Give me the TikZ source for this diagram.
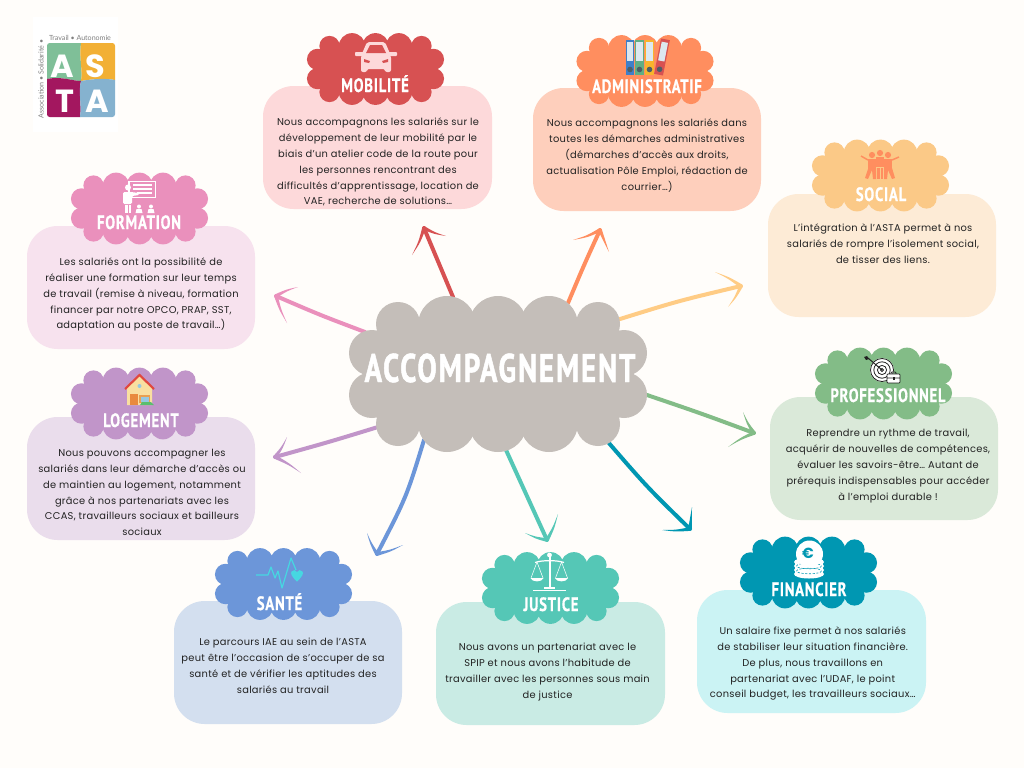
\documentclass[tikz,border=0pt]{standalone}
\usepackage{fontspec}
\usetikzlibrary{calc}
\setmainfont{Poppins}
\newfontfamily\bodyfont[LetterSpace=3]{Poppins}
\newfontfamily\logofont{Lato}
\newfontfamily\titlefont[FakeStretch=0.76,LetterSpace=4,FakeBold=0.5]{PT Sans Bold}
\newfontfamily\bigtitlefont[FakeStretch=0.72,LetterSpace=5,FakeBold=1.2]{PT Sans Bold}
\newfontfamily\coinfont{Poppins}
\definecolor{pagebg}{HTML}{FFFDFA}
\definecolor{inkdark}{HTML}{222222}
\definecolor{cmob}{HTML}{D75152}\definecolor{bmob}{HTML}{FDD9DA}
\definecolor{cadm}{HTML}{FF8E5F}\definecolor{badm}{HTML}{FECFBC}
\definecolor{csoc}{HTML}{FBC987}\definecolor{bsoc}{HTML}{FDEBD6}
\definecolor{cpro}{HTML}{83BC87}\definecolor{bpro}{HTML}{DAE9D9}
\definecolor{cfin}{HTML}{0097B2}\definecolor{bfin}{HTML}{CBF3F4}
\definecolor{cjus}{HTML}{55C7B6}\definecolor{bjus}{HTML}{C9EBE4}
\definecolor{csan}{HTML}{6C96D9}\definecolor{bsan}{HTML}{D3DFEF}
\definecolor{clog}{HTML}{C195C9}\definecolor{blog}{HTML}{EADDEC}
\definecolor{cfor}{HTML}{EA90BC}\definecolor{bfor}{HTML}{F7E2EE}
\definecolor{ccen}{HTML}{C4BEB9}
\definecolor{cyel}{HTML}{FFCC85}
\definecolor{lggreen}{HTML}{7FBF98}\definecolor{lgorange}{HTML}{F2B035}
\definecolor{lgmag}{HTML}{A3175F}\definecolor{lgblue}{HTML}{85B2CF}
\definecolor{bndblue}{HTML}{3F7FC8}\definecolor{bndgreen}{HTML}{5FAE85}
\definecolor{bndyellow}{HTML}{F7B42C}\definecolor{bndlabel}{HTML}{DCE8F0}
\definecolor{bndhole}{HTML}{4E5E66}
\definecolor{hswall}{HTML}{F9DFA0}\definecolor{hsroof}{HTML}{E0483E}
\definecolor{hsdoor}{HTML}{E98A3E}\definecolor{hsframe}{HTML}{E9A050}
\definecolor{hswin}{HTML}{96C8E1}\definecolor{hsbush}{HTML}{5ABE6E}
\definecolor{hrtline}{HTML}{46D7E1}
\definecolor{logogray}{HTML}{808080}
\tikzset{
  panelbox/.style={rounded corners=23pt,inner sep=0pt,draw=none},
  paneltxt/.style={inner sep=0pt,anchor=north,align=center,text=inkdark,
     font=\bodyfont\fontsize{7.4}{12}\selectfont},
  titletxt/.style={inner sep=0pt,anchor=base,text=white,
     font=\titlefont\fontsize{14.5}{16}\selectfont},
  shaft/.style={line width=3pt,line cap=round},
  logotxt/.style={inner sep=0pt,text=logogray,font=\logofont\fontsize{5.3}{6}\selectfont},
  logoletter/.style={inner sep=0pt,anchor=base,text=white,font=\coinfont\bfseries\fontsize{24}{26}\selectfont},
}
\newcommand{\cloudat}[4]{%
  \begin{scope}[shift={(#1,#2)},scale=#3]
    \fill[#4] (-120,-40) rectangle (120,40);
    \fill[#4] (-100,-50) rectangle (100,50);
    \foreach \xx in {-51,0,51}{
      \fill[#4] (\xx,-49) circle[radius=29];
      \fill[#4] (\xx,49) circle[radius=29];
    }
    \foreach \xx in {-100,100}{
      \fill[#4] (\xx,-50) circle[radius=22];
      \fill[#4] (\xx,50) circle[radius=22];
    }
    \foreach \xx in {-126,126}{
      \fill[#4] (\xx,-21) circle[radius=23];
      \fill[#4] (\xx,21) circle[radius=23];
    }
  \end{scope}}
\newcommand{\panelat}[6]{%
  \pgfmathsetmacro{\pw}{(#4-#2)*0.75}\pgfmathsetmacro{\ph}{(#5-#3)*0.75}%
  \node[panelbox,fill=#6,minimum width=\pw pt,minimum height=\ph pt] (#1) at ({(#2+#4)/2},{(#3+#5)/2}) {};}
\newcommand{\barb}[4]{%
  \fill[#3] ($(#1)!1.4pt!90:(#2)$)
    .. controls ($($(#1)!.5!(#2)$)!#4pt+0.7pt!90:(#2)$) .. (#2)
    .. controls ($($(#1)!.5!(#2)$)!#4pt-0.7pt!90:(#2)$) .. ($(#1)!1.4pt!-90:(#2)$) -- cycle;}
% name, colour, tail, control, tip, barb1, bulge1, barb2, bulge2
\newcommand{\handarrow}[9]{%
  \coordinate (#1tail) at #3;
  \coordinate (#1ctrl) at #4;
  \coordinate (#1tip) at #5;
  \coordinate (#1ba) at #6;
  \coordinate (#1bb) at #8;
  \draw[shaft,#2] (#1tail) .. controls (#1ctrl) .. (#1tip);
  \barb{#1tip}{#1ba}{#2}{#7}
  \barb{#1tip}{#1bb}{#2}{#9}}
\begin{document}
\begin{tikzpicture}[x=0.75pt,y=-0.75pt]
\useasboundingbox (0,0) rectangle (1024,768);
\fill[pagebg] (0,0) rectangle (1024,768);

% arrows
\handarrow{ar}{cmob}{(453,297)}{(438,262)}{(424,228)}{(446,236)}{-1}{(412,255)}{1.2}
\handarrow{ad}{cadm}{(568,303)}{(584,265)}{(600,230)}{(573,240)}{1.2}{(609,252)}{-0.6}
\handarrow{so}{cyel}{(620,319)}{(678,301)}{(741,286)}{(715,272)}{-1}{(728,307)}{1}
\handarrow{pr}{cpro}{(647,395)}{(700,413)}{(754,433)}{(743,412)}{1}{(728,447)}{-1}
\handarrow{fi}{cfin}{(608,442)}{(647,487)}{(690,529)}{(692,507)}{-0.5}{(662,530)}{1}
\handarrow{ju}{cjus}{(506,450)}{(527,495)}{(547,540)}{(558,514)}{-1}{(525,533)}{1}
\handarrow{sa}{csan}{(424,440)}{(406.5,497)}{(377,554)}{(367,533)}{0.8}{(403,545)}{-1}
\handarrow{lo}{clog}{(378,427)}{(329,442)}{(275,457)}{(287,437)}{-1}{(301,473)}{1}
\handarrow{fo}{cfor}{(365,332)}{(320,315)}{(276,296)}{(298,287)}{1}{(287,323)}{-1}

% logo
\fill[white] (33,17) rectangle (118,132);
\begin{scope}
  \clip[rounded corners=2pt] (47,43) rectangle (115,117);
  \fill[lggreen] (47,43) -- (81,43) .. controls (79,60) and (83,70) .. (81,81)
     .. controls (72,81) and (62,76) .. (47,79) -- cycle;
  \fill[lgorange] (81,43) -- (115,43) -- (115,80) .. controls (105,78) and (92,79) .. (81,81)
     .. controls (83,70) and (79,60) .. (81,43) -- cycle;
  \fill[lgmag] (47,79) .. controls (62,76) and (72,81) .. (81,81)
     .. controls (78,92) and (82,105) .. (80,117) -- (47,117) -- cycle;
  \fill[lgblue] (81,81) .. controls (92,79) and (105,78) .. (115,80)
     -- (115,117) -- (80,117) .. controls (82,105) and (78,92) .. (81,81) -- cycle;
\end{scope}
\node[logoletter] (lgA) at (62.5,77) {A};
\node[logoletter] (lgS) at (95,77) {S};
\node[logoletter] (lgT) at (65,112.5) {T};
\node[logoletter] (lgB) at (97,112.5) {A};
\node[logotxt] (lgtop) at (80,38) {Travail • Autonomie};
\node[logotxt,rotate=90] (lgleft) at (41,79) {Association • Solidarité •};

% panels
\panelat{pmob}{263}{86}{492}{209}{bmob}
\panelat{padm}{533}{88}{761}{211}{badm}
\panelat{psoc}{768}{194}{996}{317}{bsoc}
\panelat{pfor}{27}{226}{255}{349}{bfor}
\panelat{plog}{27}{417}{255}{540}{blog}
\panelat{psan}{174}{601}{402}{724}{bsan}
\panelat{pjus}{436}{602}{665}{725}{bjus}
\panelat{ppro}{770}{397}{998}{520}{bpro}
\panelat{pfin}{697}{590}{926}{713}{bfin}

% clouds
\cloudat{375.5}{69}{0.46}{cmob}
\cloudat{645}{71}{0.46}{cadm}
\cloudat{880.5}{175.5}{0.46}{csoc}
\cloudat{139.5}{208.5}{0.46}{cfor}
\cloudat{139.5}{403.5}{0.46}{clog}
\cloudat{283.5}{584}{0.46}{csan}
\cloudat{550.5}{588}{0.46}{cjus}
\cloudat{883.5}{383.5}{0.46}{cpro}
\cloudat{808.5}{572.5}{0.46}{cfin}
\cloudat{498}{374}{1}{ccen}

% car icon
\fill[bmob,rounded corners=1.5pt] (361,72) -- (361,56) -- (367,42) -- (385,42) -- (391,56) -- (391,72) -- (385,72) -- (385,69) -- (367,69) -- (367,72) -- cycle;
\fill[bmob,rounded corners=.7pt] (355,52) rectangle (397,56);
\fill[cmob] (366,53) -- (370,45) -- (382,45) -- (386,53) -- cycle;
\fill[cmob] (364,59) -- (370,61) -- (369,63) -- (364,62) -- cycle;
\fill[cmob] (388,59) -- (382,61) -- (383,63) -- (388,62) -- cycle;

% binders icon
\foreach \xa/\xb/\colr in {626/634/bndblue,635/644/bndgreen,645/654/bndyellow}{
  \fill[\colr] (\xa,40) rectangle (\xb,75);
  \fill[bndlabel] ({\xa+1},42) rectangle ({\xb-1},61);
  \fill[bndhole] ({(\xa+\xb)/2},69.5) circle[radius=2.8];
}
\begin{scope}[shift={(662,57)},rotate=-11]
  \fill[cmob] (-4.5,-18) rectangle (4.5,18);
  \fill[bndlabel] (-3.2,-15) rectangle (3.2,4);
  \fill[bndhole] (0,12.5) circle[radius=2.8];
\end{scope}

% people icon
\foreach \hx/\hy in {872/155,880/153,888/155}{
  \fill[cadm] (\hx,\hy) circle[radius=3.1];
  \fill[cadm] ({\hx-4},{\hy+4}) rectangle ({\hx+4},{\hy+14});
}
\fill[cadm] (868,169) -- (865,178) -- (868,179) -- (872,170) -- (873,179) -- (876,179) -- (876,168) -- cycle;
\fill[cadm] (877,168) rectangle (879.5,179);
\fill[cadm] (880.5,168) rectangle (883,179);
\fill[cadm] (884,168) -- (884,179) -- (887,179) -- (888,170) -- (892,179) -- (895,178) -- (892,168) -- cycle;
\draw[cadm,line width=1.1pt] (868,160) -- (861,156);
\draw[cadm,line width=1.1pt] (892,160) -- (899,157);

% formation icon
\draw[white,line width=1pt] (129,181.5) rectangle (155.5,197.5);
\draw[white,line width=.8pt] (133,185) -- (152,185) (133,189) -- (152,189) (137,193) -- (152,193);
\fill[white] (128,187.5) circle[radius=3];
\fill[white,rounded corners=1pt] (123,192) -- (131,192) -- (139,193) -- (139,195) -- (132,196) -- (132,204) -- (123,204) -- cycle;
\fill[white] (125,204.5) rectangle (127.5,213);
\fill[white] (128.5,204.5) rectangle (131,213);
\foreach \px in {139,151}{
  \fill[white] (\px,206.5) circle[radius=2];
  \fill[white] ({\px-3.5},213) -- ({\px-2.5},209) -- ({\px+2.5},209) -- ({\px+3.5},213) -- cycle;
}

% house icon
\fill[hswall] (127,388) -- (139.5,376) -- (152,388) -- (152,405) -- (127,405) -- cycle;
\draw[hsroof,line width=1.6pt] (125,389) -- (139.5,375) -- (154,389);
\fill[hsdoor] (130,394) rectangle (138,405);
\fill[hsframe] (139,395) rectangle (150,403);
\fill[hswin] (140.5,396.5) rectangle (148.5,401.5);
\fill[hswin] (139.5,386) circle[radius=2];
\fill[hsbush] (140,405) -- (142,402) -- (151,402) -- (154,405) -- cycle;

% heart line icon
\draw[hrtline,line width=.9pt,line join=round] (256,575) -- (268,575) -- (271,567) -- (275,578) -- (278,571) -- (282,588) -- (291,558) -- (296,570);
\fill[hrtline] (297,581.5) .. controls (291,576) and (290.5,573.5) .. (291.5,571.5)
   .. controls (293,569.5) and (296,569.5) .. (297,572) .. controls (298,569.5) and (301,569.5) .. (302.5,571.5)
   .. controls (303.5,573.5) and (303,576) .. (297,581.5) -- cycle;

% scales icon
\fill[white] (549.5,555) circle[radius=2.4];
\fill[white] (548.5,556) rectangle (550.5,587);
\draw[white,line width=.9pt] (535,562.5) .. controls (542,560) and (557,560) .. (564,562.5);
\fill[white] (544,587) rectangle (555,589);
\draw[white,line width=.7pt] (533,590.5) -- (566,590.5);
\foreach \sx in {537,561.5}{
  \draw[white,line width=.4pt] (\sx,562) -- ({\sx-6},578) (\sx,562) -- ({\sx+6},578);
  \fill[white] ({\sx-6.5},578) .. controls ({\sx-5},582.5) and ({\sx+5},582.5) .. ({\sx+6.5},578) -- cycle;
}

% target icon
\fill[white] (882,370) circle[radius=12];
\draw[inkdark,line width=.6pt] (882,370) circle[radius=11.5] (882,370) circle[radius=8.2] (882,370) circle[radius=4.6] (882,370) circle[radius=1.5];
\draw[inkdark,line width=.7pt] (882,370) -- (868,358);
\fill[inkdark] (867,356) -- (869,359) -- (866,360) -- (864,357) -- cycle;
\fill[white] (887,374) rectangle (900,383);
\draw[inkdark,line width=.55pt,rounded corners=.6pt] (887,374) rectangle (900,383) (891,374) -- (891,372) -- (896,372) -- (896,374) (887,378) -- (900,378);
\fill[inkdark] (892.5,377) rectangle (894.5,380);

% coins icon
\foreach \cy in {574,570,566,562}{
  \fill[white] (809,\cy) ellipse[x radius=15,y radius=4.5];
}
\foreach \cy in {571,566}{
  \draw[cfin,line width=.45pt,dash pattern=on 1.6pt off 1.2pt] (809,\cy) ellipse[x radius=12.5,y radius=2.8];
}
\fill[white] (809.5,554) circle[radius=13.5];
\node[inner sep=0pt,text=cfin,font=\coinfont\bfseries\fontsize{11}{12}\selectfont] (euro) at (808,553) {€};

% titles
\node[titletxt] (tmob) at (375,92) {MOBILITÉ};
\node[titletxt] (tadm) at (647,93) {ADMINISTRATIF};
\node[titletxt] (tsoc) at (881,201) {SOCIAL};
\node[titletxt] (tfor) at (139,229) {FORMATION};
\node[titletxt] (tlog) at (141,427) {LOGEMENT};
\node[titletxt] (tsan) at (279.5,610) {SANTÉ};
\node[titletxt] (tjus) at (551,611) {JUSTICE};
\node[titletxt] (tpro) at (888,402) {PROFESSIONNEL};
\node[titletxt] (tfin) at (809,596) {FINANCIER};
\node[titletxt,font=\bigtitlefont\fontsize{30}{32}\selectfont] (center) at (500,382) {ACCOMPAGNEMENT};

% texts
\node[paneltxt] (xmob) at (378,116.2) {\rule{0pt}{7pt}Nous accompagnons les salariés sur le\\développement de leur mobilité par le\\biais d’un atelier code de la route pour\\les personnes rencontrant des\\difficultés d’apprentissage, location de\\[-0.75pt]VAE, recherche de solutions…};
\node[paneltxt] (xadm) at (647,117.2) {\rule{0pt}{7pt}Nous accompagnons les salariés dans\\toutes les démarches administratives\\(démarches d’accès aux droits,\\actualisation Pôle Emploi, rédaction de\\courrier…)};
\node[paneltxt] (xsoc) at (883,222.2) {\rule{0pt}{7pt}L’intégration à l’ASTA permet à nos\\salariés de rompre l’isolement social,\\de tisser des liens.};
\node[paneltxt] (xfor) at (141,255.9) {\rule{0pt}{7pt}Les salariés ont la possibilité de\\réaliser une formation sur leur temps\\de travail (remise à niveau, formation\\financer par notre OPCO, PRAP, SST,\\[-0.75pt]adaptation au poste de travail…)};
\node[paneltxt] (xlog) at (142,447.2) {\rule{0pt}{7pt}Nous pouvons accompagner les\\salariés dans leur démarche d’accès ou\\de maintien au logement, notamment\\grâce à nos partenariats avec les\\[-0.75pt]CCAS, travailleurs sociaux et bailleurs\\sociaux};
\node[paneltxt] (xsan) at (283,635.9) {\rule{0pt}{7pt}Le parcours IAE au sein de l’ASTA\\peut être l’occasion de s’occuper de sa\\santé et de vérifier les aptitudes des\\salariés au travail};
\node[paneltxt] (xjus) at (547.5,640.9) {\rule{0pt}{7pt}Nous avons un partenariat avec le\\SPIP et nous avons l’habitude de\\travailler avec les personnes sous main\\de justice};
\node[paneltxt] (xpro) at (888,427.2) {\rule{0pt}{7pt}Reprendre un rythme de travail,\\acquérir de nouvelles de compétences,\\évaluer les savoirs-être… Autant de\\prérequis indispensables pour accéder\\à l’emploi durable !};
\node[paneltxt] (xfin) at (812.7,624.9) {\rule{0pt}{7pt}Un salaire fixe permet à nos salariés\\de stabiliser leur situation financière.\\De plus, nous travaillons en\\partenariat avec l’UDAF, le point\\[-0.75pt]conseil budget, les travailleurs sociaux…};
\end{tikzpicture}
\end{document}
